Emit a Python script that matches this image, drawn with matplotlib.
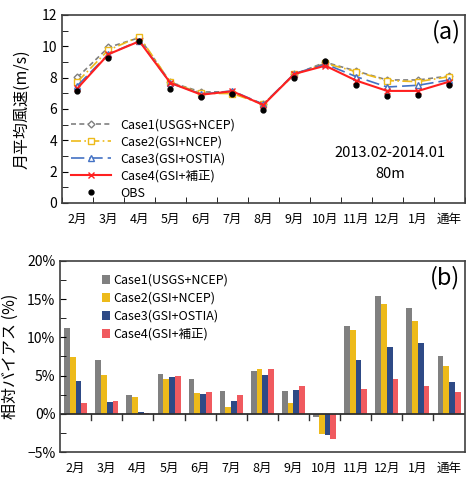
import numpy as np
import matplotlib
matplotlib.use('Agg')
import matplotlib.pyplot as plt
from matplotlib.ticker import MultipleLocator, FuncFormatter

plt.rcParams['font.family'] = ['Noto Sans CJK JP', 'DejaVu Sans']

# データ
months = ['2月', '3月', '4月', '5月', '6月', '7月', '8月', '9月', '10月', '11月', '12月', '1月', '通年']
case_names = ['Case1(USGS+NCEP)', 'Case2(GSI+NCEP)', 'Case3(GSI+OSTIA)', 'Case4(GSI+補正)']

# 月平均風速 (m/s)
case1_ws = [8.02, 9.93, 10.55, 7.70, 7.08, 7.10, 6.30, 8.20, 8.98, 8.42, 7.85, 7.85, 8.10]
case2_ws = [7.74, 9.76, 10.61, 7.70, 7.00, 6.98, 6.30, 8.20, 8.91, 8.38, 7.81, 7.74, 8.06]
case3_ws = [7.49, 9.50, 10.35, 7.65, 6.95, 7.15, 6.30, 8.25, 8.87, 8.06, 7.40, 7.51, 7.85]
case4_ws = [7.32, 9.49, 10.32, 7.66, 6.91, 7.13, 6.25, 8.23, 8.76, 7.81, 7.15, 7.15, 7.74]
obs_ws = [7.17, 9.27, 10.36, 7.29, 6.74, 6.96, 5.93, 7.96, 9.04, 7.53, 6.81, 6.87, 7.55]

# 相対バイアス (%)
case1_bias = [11.2, 7.1, 2.4, 5.2, 4.6, 3.0, 5.6, 3.0, -0.35, 11.5, 15.4, 13.8, 7.6]
case2_bias = [7.4, 5.1, 2.2, 4.6, 2.7, 0.9, 5.9, 1.4, -2.6, 11.0, 14.3, 12.1, 6.2]
case3_bias = [4.3, 1.5, 0.2, 4.8, 2.6, 1.7, 5.1, 3.1, -2.8, 7.0, 8.7, 9.2, 4.1]
case4_bias = [1.4, 1.7, 0.1, 5.0, 2.9, 2.4, 5.9, 3.6, -3.3, 3.2, 4.5, 3.7, 2.8]

colors = ['#808080', '#EDBA1A', '#2E4A86', '#F05A5F']
line_colors = ['#808080', '#EDBA1A', '#4472C4', '#FF2020']

fig = plt.figure(figsize=(4.66, 4.82), dpi=100)
ax1 = fig.add_axes([0.133, 0.579, 0.864, 0.39])
ax2 = fig.add_axes([0.129, 0.062, 0.868, 0.397])

x = np.arange(len(months))

# (a) 風速
ax1.plot(x, case1_ws, color=line_colors[0], ls=(0, (3, 2)), lw=1.2, marker='D', ms=3.5,
         mfc='white', mec=line_colors[0], label=case_names[0])
ax1.plot(x, case2_ws, color=line_colors[1], ls=(0, (6, 2, 1, 2)), lw=1.2, marker='s', ms=4.5,
         mfc='white', mec=line_colors[1], label=case_names[1])
ax1.plot(x, case3_ws, color=line_colors[2], ls=(0, (8, 3)), lw=1.2, marker='^', ms=4.5,
         mfc='white', mec=line_colors[2], label=case_names[2])
ax1.plot(x, case4_ws, color=line_colors[3], ls='-', lw=1.5, marker='x', ms=4,
         mec=line_colors[3], label=case_names[3])
ax1.plot(x, obs_ws, ls='none', marker='o', ms=3.5, color='black', label='OBS')

ax1.set_xlim(-0.5, len(months) - 0.5)
ax1.set_ylim(0, 12)
ax1.yaxis.set_major_locator(MultipleLocator(2))
ax1.yaxis.set_minor_locator(MultipleLocator(1))
ax1.set_xticks(x)
ax1.set_xticklabels(months, fontsize=9)
ax1.set_xticks(np.arange(len(months) + 1) - 0.5, minor=True)
ax1.tick_params(axis='x', which='major', length=0, pad=7)
ax1.tick_params(axis='x', which='minor', direction='in', length=4)
ax1.tick_params(axis='y', which='both', direction='in', length=4, labelsize=10)
ax1.set_ylabel('月平均風速(m/s)', fontsize=11.5, labelpad=8)
for s in ax1.spines.values():
    s.set_color('#404040')
    s.set_linewidth(1.2)
ax1.legend(loc='lower left', frameon=False, fontsize=9, handlelength=3.2,
           labelspacing=0.32, borderaxespad=0.3, bbox_to_anchor=(0.0, -0.03))
ax1.text(0.99, 0.975, '(a)', transform=ax1.transAxes, ha='right', va='top', fontsize=17)
ax1.text(0.815, 0.265, '2013.02-2014.01', transform=ax1.transAxes, ha='center',
         va='center', fontsize=10.5)
ax1.text(0.815, 0.155, '80m', transform=ax1.transAxes, ha='center', va='center',
         fontsize=10.5)

# (b) 相対バイアス
w = 0.185
biases = [case1_bias, case2_bias, case3_bias, case4_bias]
for i, b in enumerate(biases):
    ax2.bar(x + (i - 1.5) * w, b, width=w, color=colors[i], edgecolor='none',
            label=case_names[i])
ax2.axhline(0, color='#303030', lw=1.3)
ax2.set_xlim(-0.5, len(months) - 0.5)
ax2.set_ylim(-5, 20)
ax2.yaxis.set_major_locator(MultipleLocator(5))
ax2.yaxis.set_minor_locator(MultipleLocator(2.5))
ax2.yaxis.set_major_formatter(FuncFormatter(lambda v, p: f'{v:.0f}%'.replace('-', '−')))
ax2.set_xticks(x)
ax2.set_xticklabels(months, fontsize=9)
ax2.tick_params(axis='x', which='major', length=0, pad=7)
ax2.tick_params(axis='y', which='both', direction='in', length=4, labelsize=10)
for xv in np.arange(1, len(months)) - 0.5:
    ax2.plot([xv, xv], [-0.8, 0], color='#303030', lw=1)
ax2.set_ylabel('相対バイアス (%)', fontsize=11.5, labelpad=6)
for s in ax2.spines.values():
    s.set_color('#404040')
    s.set_linewidth(1.2)
ax2.legend(loc='upper left', frameon=False, fontsize=9, handlelength=0.7, handleheight=0.7,
           handletextpad=0.2, labelspacing=0.4, bbox_to_anchor=(0.075, 0.99))
ax2.text(0.99, 0.975, '(b)', transform=ax2.transAxes, ha='right', va='top', fontsize=17)

fig.savefig('out.png', dpi=100)
